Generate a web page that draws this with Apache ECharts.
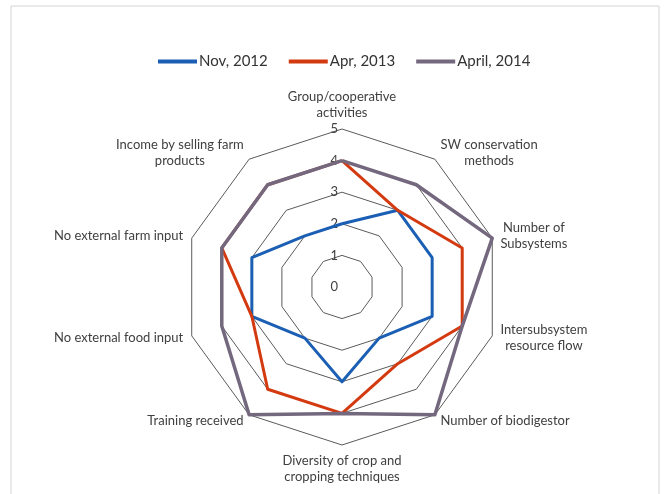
<!DOCTYPE html>
<html><head><meta charset="utf-8">
<script src="https://cdn.jsdelivr.net/npm/echarts@6/dist/echarts.min.js"></script>
<style>html,body{margin:0;padding:0;background:#fff}#c{width:666px;height:494px}</style>
</head><body><div id="c"></div>
<script>
// Indicators in clockwise order starting at the top
const indicators = [
  "Group/cooperative\nactivities",
  "SW conservation\nmethods",
  "Number of\nSubsystems",
  "Intersubsystem\nresource flow",
  "Number of biodigestor",
  "Diversity of crop and\ncropping techniques",
  "Training received",
  "No external food input",
  "No external farm input",
  "Income by selling farm\nproducts"
];
const seriesNames = ["Nov, 2012", "Apr, 2013", "April, 2014"];
const nov2012 = [2, 3, 3, 3, 2, 3, 2, 3, 3, 2];
const apr2013 = [4, 3, 4, 4, 3, 4, 4, 3, 4, 4];
const apr2014 = [4, 4, 5, 4, 5, 4, 5, 4, 4, 4];
const maxValue = 5;

// ECharts lays radar indicators counter-clockwise; reorder to get clockwise
function ccw(arr){ return [arr[0]].concat(arr.slice(1).reverse()); }

const colors = ['#1b5fb4', '#d43a10', '#74687e'];
const font = 'Lato, "Open Sans", sans-serif';
const nameSize = 13;

// centre the lines of each multi-line name inside a block as wide as its longest line
const ctx = document.createElement('canvas').getContext('2d');
ctx.font = nameSize + 'px Lato';
const rich = {};
const nameKey = {};
indicators.forEach((n, i) => {
  const w = Math.max.apply(null, n.split('\n').map(s => ctx.measureText(s).width));
  rich['n' + i] = {width: Math.ceil(w) + 1, align: 'center', fontFamily: font, fontSize: nameSize, color: '#404040', lineHeight: 16};
  nameKey[n] = 'n' + i;
});

const chart = echarts.init(document.getElementById('c'));
chart.setOption({
  animation: false,
  color: colors,
  graphic: [{
    type: 'rect', shape: {x: 11, y: 6, width: 648, height: 500},
    style: {fill: 'none', stroke: '#d4d4d4', lineWidth: 1}, silent: true
  }],
  legend: {
    top: 49, left: 153,
    icon: 'rect', itemWidth: 39, itemHeight: 4, itemGap: 21,
    textStyle: {fontFamily: font, fontSize: 15, color: '#333', padding: [0,0,0,-3]},
    data: seriesNames
  },
  radar: {
    center: [342, 287],
    radius: 158,
    shape: 'polygon',
    splitNumber: 5,
    startAngle: 90,
    nameGap: 8,
    axisName: {
      color: '#404040', fontFamily: font, fontSize: nameSize, lineHeight: 16,
      formatter: function (n) {
        const k = nameKey[n];
        return n.split('\n').map(s => '{' + k + '|' + s + '}').join('\n');
      },
      rich: rich
    },
    axisLine: {show: false},
    axisTick: {show: false},
    splitArea: {show: false},
    splitLine: {lineStyle: {color: '#5a5a5a', width: 1}},
    axisLabel: {show: false, fontFamily: font, fontSize: 13, color: '#404040'},
    indicator: ccw(indicators).map((n, i) => {
      const o = {name: n, min: 0, max: maxValue};
      if (i === 0) o.axisLabel = {show: true, margin: 4};
      return o;
    })
  },
  series: [{
    type: 'radar',
    symbol: 'none',
    lineStyle: {width: 3},
    data: [
      {name: seriesNames[0], value: ccw(nov2012), lineStyle: {color: colors[0], width: 3}, itemStyle: {color: colors[0]}},
      {name: seriesNames[1], value: ccw(apr2013), lineStyle: {color: colors[1], width: 3}, itemStyle: {color: colors[1]}},
      {name: seriesNames[2], value: ccw(apr2014), lineStyle: {color: colors[2], width: 3.5}, itemStyle: {color: colors[2]}}
    ]
  }]
});
</script></body></html>
